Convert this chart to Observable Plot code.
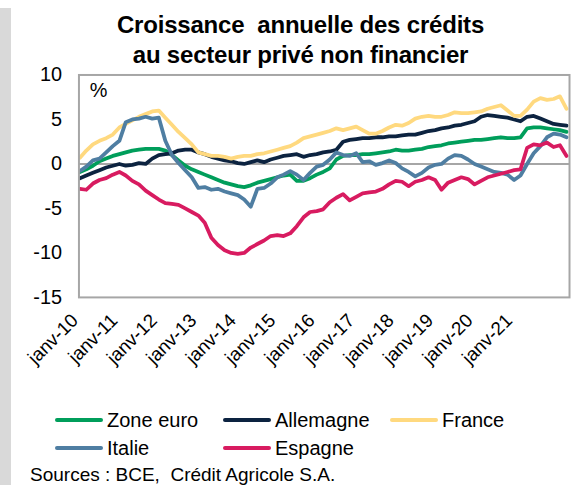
<!DOCTYPE html>
<html>
<head>
<meta charset="utf-8">
<script src="https://cdn.jsdelivr.net/npm/d3@7"></script>
<script src="https://cdn.jsdelivr.net/npm/@observablehq/plot@0.6"></script>
<style>
  html, body { margin:0; padding:0; background:#fff; width:571px; height:485px; overflow:hidden;
    font-family:"Liberation Sans", Arial, sans-serif; color:#000; }
  #strip { position:absolute; left:0; top:8px; width:11px; height:477px; background:#d9d9d9; }
  #chart { position:absolute; left:0; top:0; }
  #title { position:absolute; left:30px; width:541px; top:10px; text-align:center; font-weight:bold;
    font-size:24px; line-height:30px; letter-spacing:-0.2px; }
  .leg { position:absolute; font-size:20px; line-height:24px; white-space:nowrap; }
  .sw { position:absolute; width:48px; height:4px; border-radius:2px; }
  #source { position:absolute; left:30px; top:466px; font-size:19px; line-height:18px; white-space:nowrap; }
</style>
</head>
<body>
<div id="strip"></div>
<div id="chart"></div>
<div id="title">Croissance&nbsp; annuelle des crédits<br>au secteur privé non financier</div>
<div id="legend"></div>
<div id="source">Sources : BCE,&nbsp; Crédit Agricole S.A.</div>
<script>
// ---- data (bimonthly readings from Jan 2010) ----
const seriesNames = ["Zone euro", "Allemagne", "France", "Italie", "Espagne"];
const zoneEuro = [-0.9,-0.6,-0.2,0.3,0.6,0.9,1.1,1.3,1.5,1.6,
  1.7,1.7,1.7,1.5,1.0,0.4,-0.2,-0.6,-0.9,-1.2,
  -1.5,-1.8,-2.1,-2.3,-2.5,-2.6,-2.4,-2.1,-1.9,-1.7,
  -1.5,-1.3,-1.2,-1.9,-1.9,-1.6,-1.2,-0.9,-0.5,0.5,
  0.9,1.0,1.0,1.1,1.1,1.2,1.3,1.4,1.6,1.5,
  1.5,1.6,1.7,1.9,2.0,2.1,2.3,2.4,2.5,2.6,
  2.7,2.7,2.8,2.9,3.0,2.9,2.9,3.0,4.0,4.1,
  4.1,4.0,3.9,3.8,3.6];
const allemagne = [-1.6,-1.3,-1.0,-0.7,-0.4,-0.2,0.0,-0.2,-0.1,0.1,
  0.0,0.6,1.0,1.1,1.2,1.5,1.6,1.6,1.3,1.1,
  0.8,0.6,0.4,0.3,0.1,0.0,0.2,0.4,0.2,0.5,
  0.7,0.9,1.0,1.1,0.8,1.0,1.1,1.3,1.4,1.6,
  2.5,2.7,2.8,2.9,2.9,3.0,3.0,3.1,3.1,3.2,
  3.3,3.3,3.5,3.7,3.8,4.0,4.1,4.3,4.4,4.6,
  4.8,5.3,5.5,5.4,5.3,5.2,5.0,4.8,5.3,5.4,
  5.1,4.8,4.5,4.4,4.3];
const france = [0.7,1.5,2.2,2.6,2.9,3.3,4.1,4.5,4.9,5.3,
  5.6,5.9,6.0,5.2,4.4,3.6,2.9,2.2,1.3,1.1,
  0.9,0.9,0.8,0.6,0.8,0.9,0.9,1.1,1.2,1.4,
  1.6,1.8,2.0,2.4,2.9,3.1,3.3,3.5,3.7,4.0,
  3.8,4.0,4.2,3.8,3.4,3.4,3.7,4.1,4.4,4.3,
  4.6,5.1,5.3,5.4,5.3,5.3,5.5,5.8,5.7,5.7,
  5.8,5.9,6.2,6.4,6.6,6.0,5.4,5.4,6.1,7.0,
  7.4,7.2,7.3,7.6,6.2];
const italie = [-0.8,-0.3,0.4,0.6,1.3,2.0,2.6,4.7,5.0,5.1,
  5.3,5.1,5.2,2.6,1.0,0.1,-0.7,-1.5,-2.7,-2.6,
  -2.9,-2.8,-3.1,-3.3,-3.5,-4.0,-4.8,-2.8,-2.7,-2.2,
  -1.5,-1.2,-0.8,-1.2,-1.8,-1.0,-0.3,-0.1,0.5,1.3,
  1.0,0.9,1.2,0.2,0.3,-0.1,0.1,0.4,0.1,-0.5,
  -0.9,-1.4,-1.0,-0.4,-0.1,0.0,0.6,1.0,0.9,0.5,
  0.0,-0.3,-0.6,-0.9,-1.0,-1.2,-1.8,-1.3,0.0,1.2,
  2.0,3.0,3.4,3.3,3.0];
const espagne = [-2.8,-2.9,-2.2,-1.8,-1.6,-1.2,-0.9,-1.3,-1.9,-2.3,
  -3.0,-3.5,-4.0,-4.4,-4.5,-4.6,-5.0,-5.4,-5.8,-6.6,
  -8.3,-9.1,-9.7,-10.0,-10.1,-10.0,-9.4,-9.0,-8.6,-8.1,
  -8.0,-8.1,-7.8,-7.0,-6.0,-5.4,-5.3,-5.1,-4.3,-3.8,
  -3.4,-4.1,-3.7,-3.3,-3.2,-3.1,-2.8,-2.3,-1.9,-2.0,
  -2.5,-2.0,-1.8,-1.5,-1.8,-2.9,-2.1,-1.8,-1.5,-1.7,
  -2.3,-1.9,-1.5,-1.3,-1.1,-0.9,-0.7,-0.6,1.8,2.2,
  2.1,2.4,1.9,2.1,0.9];
const tickYears = [2010,2011,2012,2013,2014,2015,2016,2017,2018,2019,2020,2021];
const tickMonthLabel = "janv";
const yTicks = [-15, -10, -5, 0, 5, 10];

const colors = ["#009E5B", "#0C2340", "#FFD97F", "#4F7EA2", "#D81B60"];
const seriesValues = [zoneEuro, allemagne, france, italie, espagne];

const start = new Date(Date.UTC(2010, 0, 1));
const rows = [];
seriesValues.forEach((vals, si) => vals.forEach((v, i) => rows.push({
  date: d3.utcMonth.offset(start, 2 * i), value: v, name: seriesNames[si]
})));
const end = d3.utcMonth.offset(start, 2 * (zoneEuro.length - 1));
const tickDates = tickYears.map(y => new Date(Date.UTC(y, 0, 1)));

const chart = Plot.plot({
  width: 575,
  height: 370,
  marginTop: 75,
  marginBottom: 71,
  marginLeft: 79,
  marginRight: 2,
  style: { fontFamily: '"Liberation Sans", Arial, sans-serif', color: "#000", background: "transparent", overflow: "visible" },
  x: { type: "utc", domain: [start, end], range: [80, 570], axis: null },
  y: { domain: [-15, 10], axis: null },
  color: { domain: seriesNames, range: colors },
  marks: [
    Plot.ruleY([0], { stroke: "#a6a6a6", strokeWidth: 2 }),
    Plot.line(rows, { x: "date", y: "value", z: "name", stroke: "name", strokeWidth: 3.8,
      strokeLinejoin: "round", strokeLinecap: "round" }),
    Plot.frame({ stroke: "#a6a6a6", strokeWidth: 2 }),
    Plot.axisY({ ticks: yTicks, tickSize: 0, tickPadding: 17, fontSize: 20, label: null,
      tickFormat: d => String(d) }),
    Plot.axisX({ ticks: tickDates, tickSize: 0, tickPadding: 20, tickRotate: -45, fontSize: 19, label: null,
      tickFormat: d => tickMonthLabel + "-" + String(d.getUTCFullYear()).slice(2), dx: -5 }),
    Plot.text(["%"], { frameAnchor: "top-left", dx: 11, dy: 16, textAnchor: "start", lineAnchor: "middle", fontSize: 20 })
  ]
});
document.getElementById("chart").appendChild(chart);

// ---- legend ----
const legendPos = [[55, 420], [223, 420], [390, 420], [55, 448], [223, 448]];
const legend = document.getElementById("legend");
seriesNames.forEach((n, i) => {
  const [lx, ly] = legendPos[i];
  const sw = document.createElement("div");
  sw.className = "sw"; sw.style.left = lx + "px"; sw.style.top = (ly - 2) + "px"; sw.style.background = colors[i];
  legend.appendChild(sw);
  const t = document.createElement("div");
  t.className = "leg"; t.textContent = n; t.style.left = (lx + 52) + "px"; t.style.top = (ly - 12) + "px";
  legend.appendChild(t);
});
</script>
</body>
</html>
